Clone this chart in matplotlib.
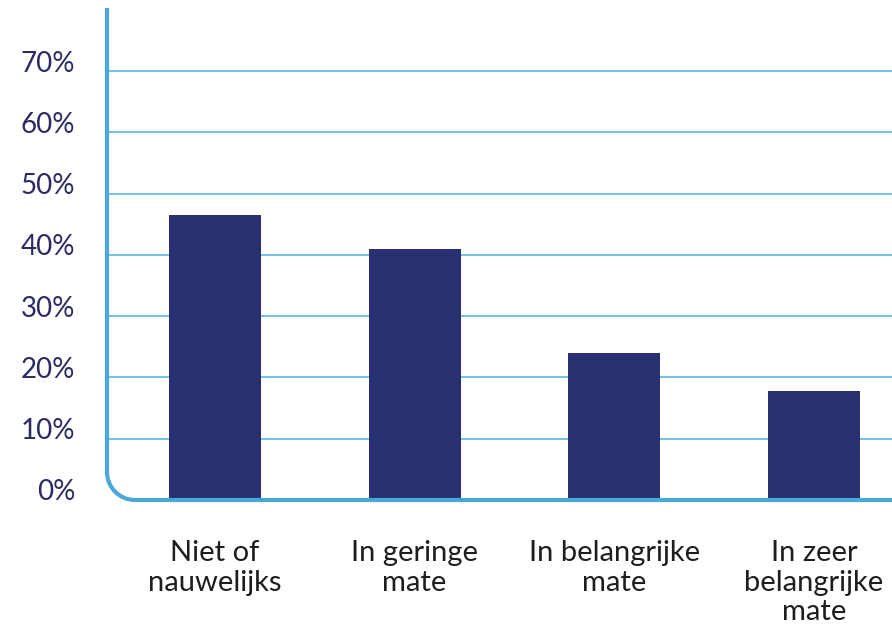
import matplotlib
matplotlib.use("Agg")
from matplotlib import pyplot as plt
from matplotlib.path import Path
from matplotlib.patches import PathPatch
from matplotlib.transforms import ScaledTranslation

categories = ["Niet of\nnauwelijks", "In geringe\nmate", "In belangrijke\nmate", "In zeer\nbelangrijke\nmate"]
values = [46.5, 41.0, 24.0, 17.8]
yticks = [0, 10, 20, 30, 40, 50, 60, 70]
ytick_labels = ["0%", "10%", "20%", "30%", "40%", "50%", "60%", "70%"]

W, H = 892, 627
bar_color = "#283071"
line_color = "#4aa8d6"
grid_color = "#6bbbe0"
text_color = "#2c2a63"

plt.rcParams['font.family'] = ['Lato', 'DejaVu Sans']

fig = plt.figure(figsize=(W / 100, H / 100), dpi=100)
# axes from x=107..892 px, y=8..500 px (top-down)
ax = fig.add_axes([107 / W, 1 - 500 / H, (W - 107) / W, (500 - 8) / H])
ax.set_ylim(0, 80.3)
ax.set_xlim(-0.54, 3.39)

x = range(len(values))
ax.bar(x, values, width=0.46, color=bar_color, zorder=3)

for t in yticks[1:]:
    ax.axhline(t, color=grid_color, linewidth=1.3, zorder=1)

for s in ax.spines.values():
    s.set_visible(False)
ax.set_yticks(yticks)
ax.set_yticklabels(ytick_labels, fontsize=20, color=text_color)
ax.tick_params(axis="y", length=0, pad=23)
shift = ScaledTranslation(0, 10 / 100, fig.dpi_scale_trans)
for lab in ax.get_yticklabels():
    lab.set_transform(lab.get_transform() + shift)
ax.set_xticks([])

for i, lab in enumerate(categories):
    ax.text(i, -6.6, lab, ha="center", va="top", fontsize=21, color="#1e1e1e",
            linespacing=1.15, clip_on=False)

# L-shaped axis line with rounded corner, in pixel coords -> figure fraction
def fp(px, py):
    return (px / W, 1 - py / H)

r = 28
k = 0.552 * r
verts = [fp(107, 8), fp(107, 500 - r), fp(107, 500 - r + k), fp(107 + r - k, 500),
         fp(107 + r, 500), fp(W, 500)]
codes = [Path.MOVETO, Path.LINETO, Path.CURVE4, Path.CURVE4, Path.CURVE4, Path.LINETO]
fig.patches.append(PathPatch(Path(verts, codes), transform=fig.transFigure,
                             facecolor="none", edgecolor=line_color, linewidth=3, zorder=5))

fig.savefig("out.png", dpi=100)
